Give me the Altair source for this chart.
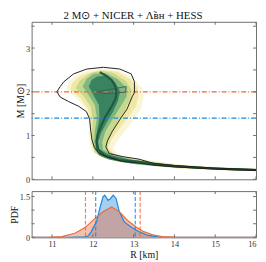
import altair as alt
import pandas as pd

# ---------------- data ----------------
R_TICKS = [11, 12, 13, 14, 15, 16]
M_TICKS = [0, 0.5, 1, 1.5, 2, 2.5, 3, 3.5]
PDF_TICKS = [0, 0.5, 1, 1.5]

# density band levels (outer -> inner), closed polygons in (R, M)
pale_R = [11.75, 12.2, 12.65, 12.98, 13.2, 13.25, 13.18, 13.0, 12.75, 12.58, 12.5, 12.6, 12.9, 13.3, 14.0, 15.0, 16.0,
          16.0, 15.0, 14.0, 13.2, 12.6, 12.2, 12.0, 11.93, 11.9, 11.9, 11.82, 11.6, 11.35, 11.4, 11.55]
pale_M = [2.45, 2.53, 2.48, 2.32, 2.1, 1.9, 1.62, 1.36, 1.05, 0.85, 0.7, 0.58, 0.5, 0.45, 0.35, 0.28, 0.245,
          0.185, 0.21, 0.255, 0.325, 0.4, 0.5, 0.62, 0.8, 1.05, 1.35, 1.6, 1.85, 2.05, 2.2, 2.35]

yellow_R = [11.85, 12.2, 12.6, 12.9, 13.1, 13.12, 13.05, 12.85, 12.6, 12.45, 12.38, 12.5, 12.8, 13.2, 14.0, 15.0, 16.0,
            16.0, 15.0, 14.0, 13.2, 12.7, 12.3, 12.05, 11.97, 11.95, 11.95, 11.88, 11.7, 11.45, 11.5, 11.65]
yellow_M = [2.42, 2.5, 2.46, 2.3, 2.1, 1.9, 1.65, 1.4, 1.1, 0.9, 0.72, 0.6, 0.5, 0.44, 0.34, 0.275, 0.24,
            0.19, 0.215, 0.26, 0.33, 0.39, 0.48, 0.6, 0.8, 1.05, 1.35, 1.6, 1.85, 2.05, 2.2, 2.33]

lgreen_R = [11.95, 12.2, 12.5, 12.8, 12.95, 12.92, 12.77, 12.62, 12.44, 12.35, 12.37, 12.6, 13.1, 14.0, 15.0, 16.0,
            16.0, 15.0, 14.0, 13.1, 12.6, 12.25, 12.05, 12.0, 11.98, 12.0, 11.95, 11.78, 11.58, 11.68]
lgreen_M = [2.43, 2.48, 2.43, 2.25, 2.05, 1.85, 1.55, 1.35, 1.05, 0.82, 0.66, 0.54, 0.43, 0.33, 0.268, 0.232,
            0.198, 0.222, 0.268, 0.34, 0.41, 0.5, 0.62, 0.8, 1.05, 1.35, 1.65, 1.9, 2.08, 2.25]

green_R = [12.02, 12.3, 12.6, 12.82, 12.83, 12.64, 12.47, 12.31, 12.23, 12.25, 12.5, 13.0, 14.0, 15.0, 16.0,
           16.0, 15.0, 14.0, 13.0, 12.5, 12.2, 12.06, 12.03, 12.05, 12.1, 12.05, 11.88, 11.75, 11.85]
green_M = [2.41, 2.43, 2.3, 2.1, 1.9, 1.6, 1.35, 1.1, 0.85, 0.68, 0.55, 0.44, 0.325, 0.263, 0.228,
           0.203, 0.227, 0.275, 0.35, 0.43, 0.53, 0.66, 0.85, 1.1, 1.4, 1.7, 1.95, 2.12, 2.3]

dark_R = [12.1, 12.35, 12.55, 12.67, 12.62, 12.5, 12.34, 12.2, 12.13, 12.16, 12.4, 12.9, 14.0, 15.0, 16.0,
          16.0, 15.0, 14.0, 12.9, 12.4, 12.15, 12.07, 12.07, 12.1, 12.16, 12.15, 12.0, 11.9, 11.97]
dark_M = [2.35, 2.37, 2.22, 2.0, 1.8, 1.55, 1.3, 1.05, 0.85, 0.68, 0.56, 0.45, 0.318, 0.258, 0.224,
          0.208, 0.232, 0.28, 0.37, 0.45, 0.55, 0.68, 0.85, 1.1, 1.4, 1.7, 1.95, 2.12, 2.27]

# outer credible contour (open at R = 16)
contour_R = [16.0, 15.0, 14.0, 13.5, 13.13, 12.72, 12.4, 12.32, 12.36, 12.48, 12.68, 12.84, 12.97, 13.02, 13.02,
             12.94, 12.66, 12.26, 11.85, 11.53, 11.29, 11.2, 11.12, 11.2, 11.4, 11.65, 11.84, 11.92, 11.95,
             11.98, 12.04, 12.15, 12.35, 12.72, 13.13, 13.5, 14.0, 15.0, 16.0]
contour_M = [0.225, 0.255, 0.315, 0.36, 0.46, 0.52, 0.59, 0.74, 0.88, 1.1, 1.39, 1.61, 1.9, 1.98, 2.23,
             2.41, 2.52, 2.56, 2.52, 2.41, 2.23, 2.12, 2.0, 1.88, 1.78, 1.67, 1.55, 1.39, 1.1,
             0.9, 0.72, 0.6, 0.51, 0.41, 0.37, 0.32, 0.283, 0.232, 0.198]

# median M-R curve
median_R = [12.17, 12.32, 12.46, 12.55, 12.58, 12.56, 12.48, 12.4, 12.3, 12.2, 12.12, 12.09, 12.12, 12.28, 12.64,
            13.13, 13.5, 14.0, 14.5, 15.0, 15.5, 16.0]
median_M = [2.45, 2.37, 2.27, 2.12, 2.0, 1.85, 1.7, 1.57, 1.42, 1.22, 1.02, 0.88, 0.70, 0.55, 0.44,
            0.40, 0.345, 0.30, 0.27, 0.247, 0.228, 0.212]

# small inner contour near 2 Msun
wedge_R = [12.09, 12.82, 12.8, 12.3, 12.09]
wedge_M = [2.0, 2.12, 1.99, 1.96, 2.0]

M_ORANGE = [2.0]
M_BLUE = [1.4]

# radius PDFs
pdf_blue_R = [10.5, 11.4, 11.6, 11.8, 11.88, 11.96, 12.0, 12.09, 12.17, 12.25, 12.29, 12.33, 12.37, 12.43, 12.5,
              12.57, 12.65, 12.77, 12.93, 13.13, 13.34, 13.58, 13.8, 16.0]
pdf_blue = [0, 0, 0.01, 0.02, 0.05, 0.2, 0.33, 0.57, 1.06, 1.49, 1.55, 1.47, 1.36, 1.42, 1.55,
            1.43, 0.94, 0.57, 0.39, 0.21, 0.08, 0.02, 0, 0]
pdf_orange_R = [10.5, 10.9, 11.24, 11.56, 11.8, 12.05, 12.25, 12.46, 12.65, 12.85, 13.05, 13.25, 13.5, 13.7, 14.0,
                14.3, 16.0]
pdf_orange = [0, 0.003, 0.03, 0.15, 0.35, 0.69, 0.94, 1.12, 0.94, 0.62, 0.39, 0.21, 0.08, 0.03, 0.01,
              0, 0]
blue_bounds = [12.07, 13.04]
orange_bounds = [11.82, 13.16]

# ---------------- style ----------------
W, H1, H2 = 228, 160, 47
FONT = "Liberation Serif"
FRAME = "#6e6e6e"
ORANGE = "#ec6a3a"
BLUE = "#1f88dc"

xs = alt.Scale(domain=[10.5, 16], nice=False)
ys1 = alt.Scale(domain=[0, 3.6], nice=False)
ys2 = alt.Scale(domain=[0, 1.7], nice=False)


def poly(Rs, Ms, color, opacity):
    df = pd.DataFrame({"R": Rs, "M": Ms, "i": list(range(len(Rs)))})
    return alt.Chart(df).mark_line(fill=color, fillOpacity=opacity, strokeOpacity=0, clip=True).encode(
        x=alt.X("R:Q", scale=xs, axis=None), y=alt.Y("M:Q", scale=ys1), order="i:Q")


def path(Rs, Ms, color, width):
    df = pd.DataFrame({"R": Rs, "M": Ms, "i": list(range(len(Rs)))})
    return alt.Chart(df).mark_line(color=color, strokeWidth=width, clip=True).encode(
        x=alt.X("R:Q", scale=xs, axis=None), y=alt.Y("M:Q", scale=ys1), order="i:Q")


def hline(vals, color):
    return alt.Chart(pd.DataFrame({"M": vals})).mark_rule(
        color=color, strokeWidth=1.2, strokeDash=[5, 2, 1, 2]).encode(y=alt.Y("M:Q", scale=ys1))


def vline(vals, color):
    return alt.Chart(pd.DataFrame({"R": vals})).mark_rule(
        color=color, strokeWidth=1.2, strokeDash=[4, 2], opacity=0.85).encode(x=alt.X("R:Q", scale=xs))


xt = pd.DataFrame({"R": R_TICKS})
mt = pd.DataFrame({"M": M_TICKS})
pt = pd.DataFrame({"P": PDF_TICKS})

# top panel axes carrier + inward ticks
top_axes = alt.Chart(mt).mark_rule(color=FRAME).encode(
    y=alt.Y("M:Q", scale=ys1, axis=alt.Axis(values=M_TICKS, labelExpr="datum.value + ''",
                                             title="M [M⊙]", titlePadding=0)),
    x=alt.value(0), x2=alt.value(3))
top_yr = alt.Chart(mt).mark_rule(color=FRAME).encode(
    y=alt.Y("M:Q", scale=ys1), x=alt.value(W), x2=alt.value(W - 3))
top_xb = alt.Chart(xt).mark_rule(color=FRAME).encode(
    x=alt.X("R:Q", scale=xs, axis=None), y=alt.value(H1), y2=alt.value(H1 - 3))
top_xt = alt.Chart(xt).mark_rule(color=FRAME).encode(
    x=alt.X("R:Q", scale=xs, axis=None), y=alt.value(0), y2=alt.value(3))

top = alt.layer(
    poly(pale_R, pale_M, "#f7f1c4", 0.7),
    poly(yellow_R, yellow_M, "#eee497", 0.8),
    poly(lgreen_R, lgreen_M, "#bcd68a", 0.85),
    poly(green_R, green_M, "#74b07c", 0.85),
    poly(dark_R, dark_M, "#2e7a5b", 0.85),
    hline(M_ORANGE, ORANGE),
    hline(M_BLUE, BLUE),
    path(wedge_R, wedge_M, "#3c5c52", 0.9),
    path(median_R, median_M, "#1f5a40", 2.2),
    path(contour_R, contour_M, "#222222", 1.0),
    top_axes, top_yr, top_xb, top_xt,
).properties(width=W, height=H1)

# bottom panel
dfb = pd.DataFrame({"R": pdf_blue_R, "P": pdf_blue})
dfo = pd.DataFrame({"R": pdf_orange_R, "P": pdf_orange})
ybot = alt.Y("P:Q", scale=ys2)
area_b = alt.Chart(dfb).mark_area(color=BLUE, opacity=0.4, clip=True).encode(
    x=alt.X("R:Q", scale=xs), y=ybot)
area_o = alt.Chart(dfo).mark_area(color=ORANGE, opacity=0.42, clip=True).encode(
    x=alt.X("R:Q", scale=xs), y=ybot)
line_b = alt.Chart(dfb).mark_line(color=BLUE, strokeWidth=1.2, clip=True).encode(
    x=alt.X("R:Q", scale=xs), y=ybot)
line_o = alt.Chart(dfo).mark_line(color=ORANGE, strokeWidth=1.2, clip=True).encode(
    x=alt.X("R:Q", scale=xs), y=ybot)

bot_axes = alt.Chart(pt).mark_rule(color=FRAME).encode(
    y=alt.Y("P:Q", scale=ys2, axis=alt.Axis(values=PDF_TICKS, labelExpr="datum.value + ''",
                                             title="PDF", titlePadding=0)),
    x=alt.value(0), x2=alt.value(3))
bot_yr = alt.Chart(pt).mark_rule(color=FRAME).encode(
    y=alt.Y("P:Q", scale=ys2), x=alt.value(W), x2=alt.value(W - 3))
bot_xb = alt.Chart(xt).mark_rule(color=FRAME).encode(
    x=alt.X("R:Q", scale=xs, axis=alt.Axis(values=R_TICKS, title="R [km]", labelPadding=2, titlePadding=2)),
    y=alt.value(H2), y2=alt.value(H2 - 3))
bot_xt = alt.Chart(xt).mark_rule(color=FRAME).encode(
    x=alt.X("R:Q", scale=xs), y=alt.value(0), y2=alt.value(3))

bottom = alt.layer(
    area_b, area_o, line_b, line_o, vline(orange_bounds, ORANGE), vline(blue_bounds, BLUE),
    bot_axes, bot_yr, bot_xb, bot_xt
).properties(width=W, height=H2)

chart = alt.vconcat(top, bottom, spacing=5).properties(
    title=alt.Title("2 M⊙ + NICER + Λ̃ʙʜ + HESS", font=FONT, fontSize=11, fontWeight="normal",
                    color="#111111", offset=0, anchor="middle"),
    padding={"left": 0, "right": 0, "top": 0, "bottom": 0},
).configure_view(stroke=FRAME, strokeWidth=1).configure_axis(
    labelFont=FONT, labelFontSize=8.5, labelColor="#333333", titleFont=FONT, titleFontSize=10,
    titleFontWeight="normal", titleColor="#111111", domain=False, ticks=False, grid=False, labelPadding=2
).configure_concat(spacing=5)

chart.save("out.html", embed_options={"renderer": "svg", "actions": False})
